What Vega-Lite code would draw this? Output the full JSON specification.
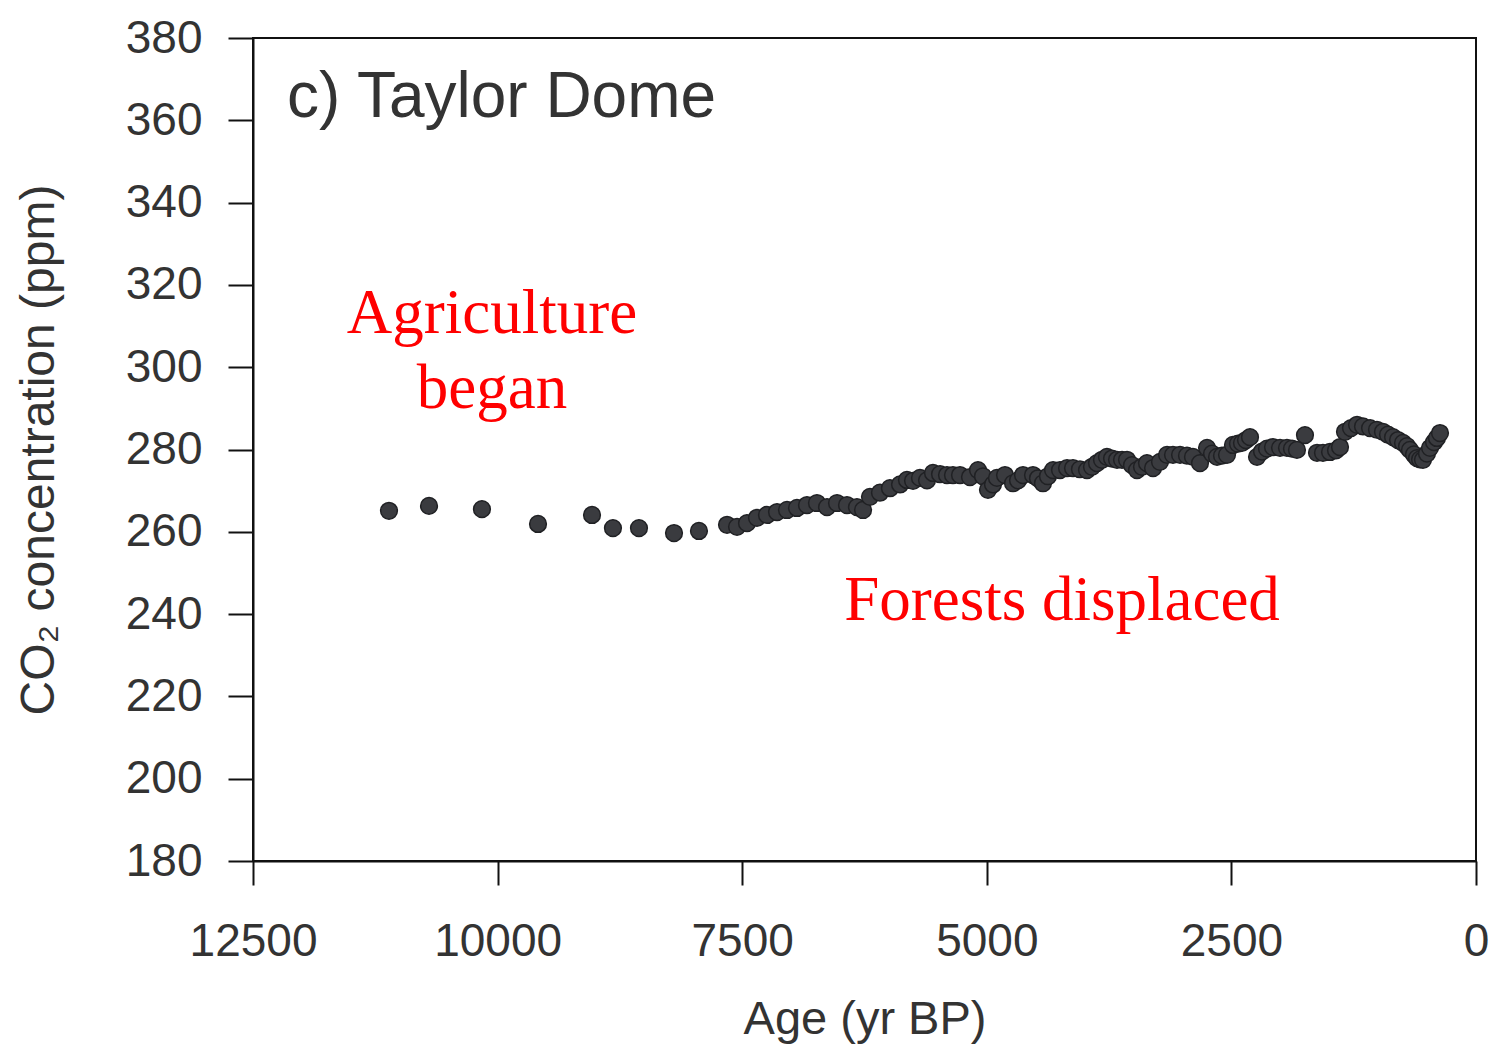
{
  "$schema": "https://vega.github.io/schema/vega-lite/v6.json",
  "autosize": "none",
  "width": 1223,
  "height": 823,
  "padding": {"left": 253, "top": 38, "right": 27, "bottom": 203},
  "background": "white",
  "config": {
    "view": {"stroke": "#111", "strokeWidth": 2},
    "axis": {"grid": false, "domainColor": "#111", "domainWidth": 2, "tickColor": "#111", "tickWidth": 2,
             "labelFont": "Liberation Sans", "titleFont": "Liberation Sans", "labelColor": "#333", "titleColor": "#333", "titleFontWeight": "normal"}
  },
  "datasets": {
    "co2": [
      {"age": 11110, "co2": 265.1}, {"age": 10701, "co2": 266.3}, {"age": 10160, "co2": 265.5},
      {"age": 9587, "co2": 261.9}, {"age": 9035, "co2": 264.1}, {"age": 8821, "co2": 260.9},
      {"age": 8555, "co2": 260.9}, {"age": 8197, "co2": 259.7}, {"age": 7942, "co2": 260.2},
      {"age": 7655, "co2": 261.7}, {"age": 7553, "co2": 261.2}, {"age": 7451, "co2": 262.1},
      {"age": 7349, "co2": 263.4}, {"age": 7247, "co2": 264.1}, {"age": 7144, "co2": 264.8},
      {"age": 7042, "co2": 265.3}, {"age": 6940, "co2": 265.8}, {"age": 6838, "co2": 266.5},
      {"age": 6736, "co2": 267.0}, {"age": 6633, "co2": 266.0}, {"age": 6531, "co2": 267.0},
      {"age": 6429, "co2": 266.5}, {"age": 6327, "co2": 266.0}, {"age": 6265, "co2": 265.3},
      {"age": 6194, "co2": 268.5}, {"age": 6092, "co2": 269.5}, {"age": 5990, "co2": 270.6},
      {"age": 5887, "co2": 271.5}, {"age": 5816, "co2": 272.6}, {"age": 5754, "co2": 272.4},
      {"age": 5683, "co2": 273.1}, {"age": 5611, "co2": 272.5}, {"age": 5550, "co2": 274.3},
      {"age": 5478, "co2": 274.0}, {"age": 5407, "co2": 273.8}, {"age": 5346, "co2": 273.8},
      {"age": 5274, "co2": 273.8}, {"age": 5172, "co2": 273.3}, {"age": 5090, "co2": 275.0},
      {"age": 5039, "co2": 273.5}, {"age": 4988, "co2": 270.2}, {"age": 4937, "co2": 271.5},
      {"age": 4896, "co2": 273.1}, {"age": 4814, "co2": 273.8}, {"age": 4732, "co2": 271.8},
      {"age": 4681, "co2": 272.5}, {"age": 4630, "co2": 273.8}, {"age": 4528, "co2": 273.8},
      {"age": 4477, "co2": 273.0}, {"age": 4426, "co2": 271.8}, {"age": 4375, "co2": 273.5},
      {"age": 4323, "co2": 275.0}, {"age": 4252, "co2": 275.0}, {"age": 4180, "co2": 275.5},
      {"age": 4119, "co2": 275.5}, {"age": 4048, "co2": 275.2}, {"age": 3976, "co2": 275.0},
      {"age": 3925, "co2": 275.8}, {"age": 3874, "co2": 276.7}, {"age": 3823, "co2": 277.5},
      {"age": 3772, "co2": 278.2}, {"age": 3720, "co2": 277.8}, {"age": 3669, "co2": 277.5},
      {"age": 3618, "co2": 277.5}, {"age": 3567, "co2": 277.5}, {"age": 3516, "co2": 276.2},
      {"age": 3465, "co2": 275.0}, {"age": 3414, "co2": 275.8}, {"age": 3363, "co2": 276.7},
      {"age": 3301, "co2": 275.5}, {"age": 3230, "co2": 277.0}, {"age": 3158, "co2": 278.7},
      {"age": 3097, "co2": 278.7}, {"age": 3025, "co2": 278.7}, {"age": 2954, "co2": 278.5},
      {"age": 2893, "co2": 278.2}, {"age": 2821, "co2": 276.7}, {"age": 2749, "co2": 280.4},
      {"age": 2698, "co2": 279.0}, {"age": 2647, "co2": 278.2}, {"age": 2596, "co2": 278.5},
      {"age": 2545, "co2": 278.7}, {"age": 2484, "co2": 281.1}, {"age": 2433, "co2": 281.4},
      {"age": 2392, "co2": 281.6}, {"age": 2351, "co2": 282.3}, {"age": 2310, "co2": 283.0},
      {"age": 2238, "co2": 278.2}, {"age": 2187, "co2": 279.5}, {"age": 2136, "co2": 280.2},
      {"age": 2075, "co2": 280.6}, {"age": 2003, "co2": 280.4}, {"age": 1932, "co2": 280.4},
      {"age": 1881, "co2": 280.2}, {"age": 1830, "co2": 279.9}, {"age": 1748, "co2": 283.5},
      {"age": 1625, "co2": 279.2}, {"age": 1564, "co2": 279.2}, {"age": 1492, "co2": 279.4},
      {"age": 1431, "co2": 279.8}, {"age": 1390, "co2": 280.6}, {"age": 1339, "co2": 284.3},
      {"age": 1278, "co2": 285.2}, {"age": 1216, "co2": 286.0}, {"age": 1155, "co2": 285.6},
      {"age": 1083, "co2": 285.2}, {"age": 1012, "co2": 284.8}, {"age": 951, "co2": 284.3},
      {"age": 899, "co2": 283.6}, {"age": 848, "co2": 283.0}, {"age": 797, "co2": 282.3},
      {"age": 746, "co2": 281.6}, {"age": 705, "co2": 280.8}, {"age": 675, "co2": 279.9},
      {"age": 634, "co2": 278.8}, {"age": 603, "co2": 277.9}, {"age": 572, "co2": 277.6},
      {"age": 542, "co2": 277.5}, {"age": 501, "co2": 279.0}, {"age": 470, "co2": 280.4},
      {"age": 429, "co2": 281.8}, {"age": 399, "co2": 282.8}, {"age": 368, "co2": 284.0}
    ]
  },
  "layer": [
    {
      "data": {"name": "co2"},
      "mark": {"type": "circle", "size": 280, "color": "#3a3b3f", "opacity": 1, "stroke": "#202124", "strokeWidth": 1.5},
      "encoding": {
        "x": {"field": "age", "type": "quantitative",
              "scale": {"domain": [0, 12500], "reverse": true, "nice": false, "zero": false},
              "axis": {"values": [0, 2500, 5000, 7500, 10000, 12500], "format": "d", "tickSize": 24, "labelFlush": false, "labelOverlap": false,
                       "labelFontSize": 46, "labelPadding": 34, "title": "Age (yr BP)", "titleFontSize": 47, "titlePadding": 32}},
        "y": {"field": "co2", "type": "quantitative",
              "scale": {"domain": [180, 380], "nice": false, "zero": false},
              "axis": {"values": [180, 200, 220, 240, 260, 280, 300, 320, 340, 360, 380], "tickSize": 25, "labelFlush": false,
                       "labelFontSize": 46, "labelPadding": 26, "title": "CO₂ concentration (ppm)", "titleFontSize": 48, "titlePadding": 62}}
      }
    },
    {
      "data": {"values": [{}]},
      "mark": {"type": "text", "text": "c) Taylor Dome", "align": "left", "baseline": "alphabetic", "font": "Liberation Sans", "fontSize": 64, "color": "#333"},
      "encoding": {"x": {"datum": 12153, "type": "quantitative"}, "y": {"datum": 360.8, "type": "quantitative"}}
    },
    {
      "data": {"values": [{}]},
      "mark": {"type": "text", "text": "Agriculture", "align": "center", "baseline": "alphabetic", "font": "Liberation Serif", "fontSize": 63, "color": "#ff0000"},
      "encoding": {"x": {"datum": 10057, "type": "quantitative"}, "y": {"datum": 308.3, "type": "quantitative"}}
    },
    {
      "data": {"values": [{}]},
      "mark": {"type": "text", "text": "began", "align": "center", "baseline": "alphabetic", "font": "Liberation Serif", "fontSize": 63, "color": "#ff0000"},
      "encoding": {"x": {"datum": 10057, "type": "quantitative"}, "y": {"datum": 290.1, "type": "quantitative"}}
    },
    {
      "data": {"values": [{}]},
      "mark": {"type": "text", "text": "Forests displaced", "align": "center", "baseline": "alphabetic", "font": "Liberation Serif", "fontSize": 63, "color": "#ff0000"},
      "encoding": {"x": {"datum": 4231, "type": "quantitative"}, "y": {"datum": 238.6, "type": "quantitative"}}
    }
  ]
}
